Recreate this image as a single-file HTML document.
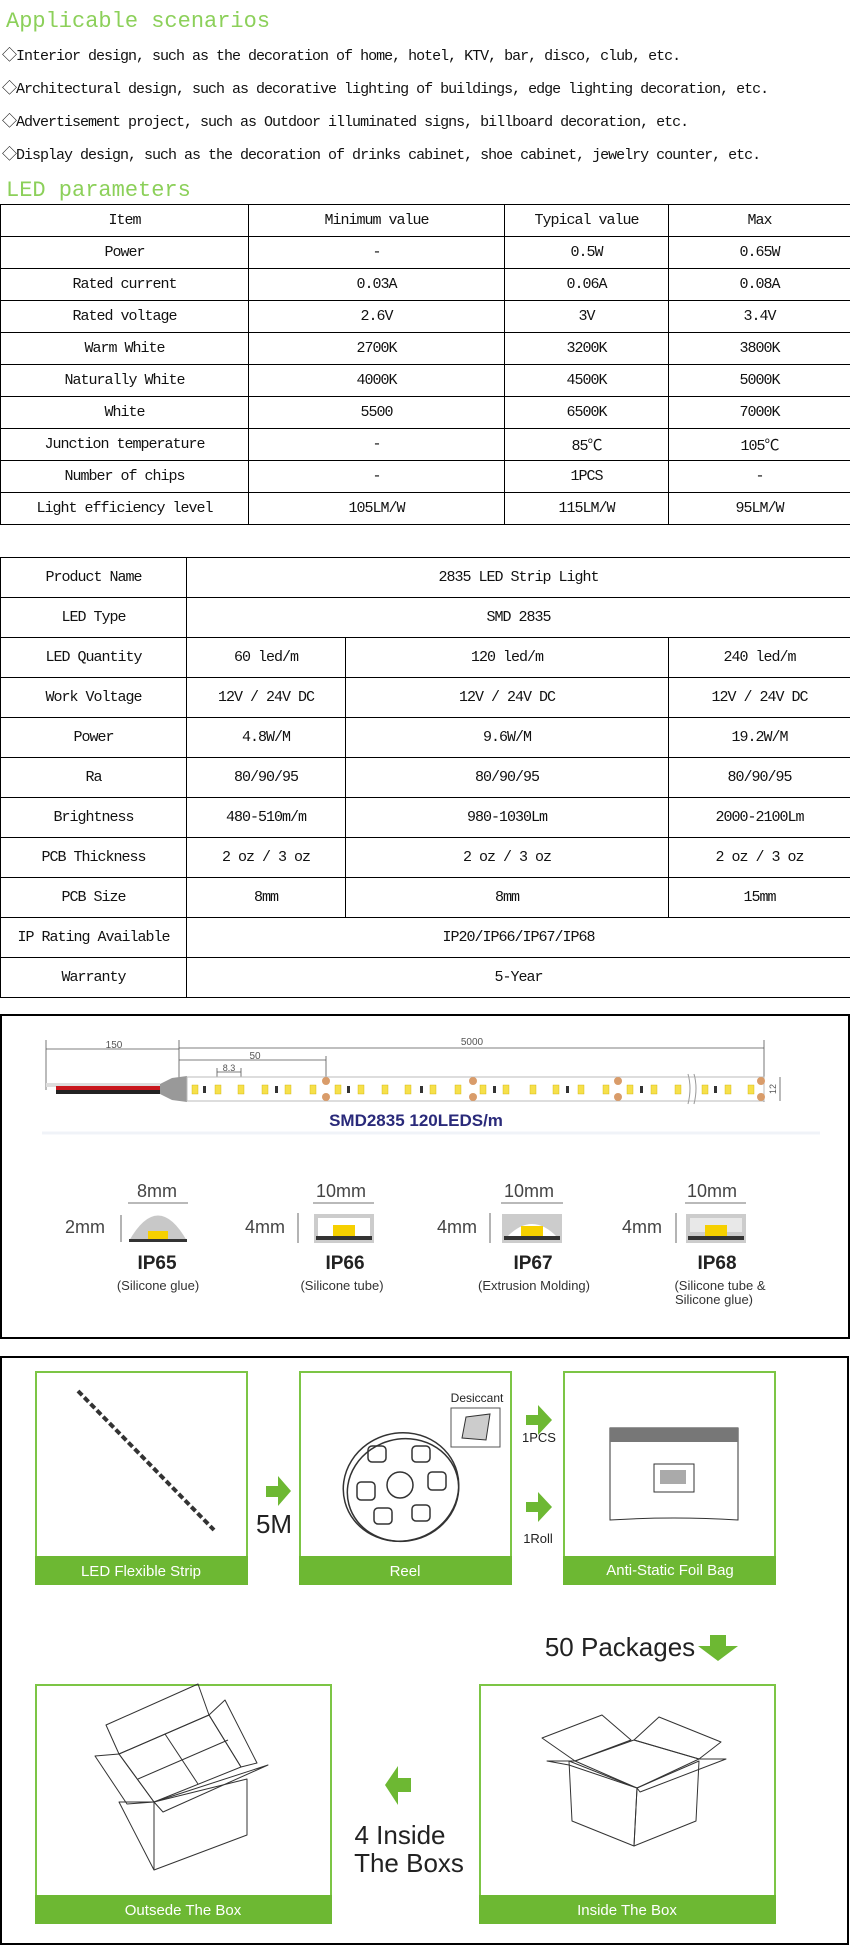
<!DOCTYPE html>
<html><head><meta charset="utf-8"><style>
*{margin:0;padding:0;box-sizing:border-box}
body{width:850px;height:1946px;position:relative;background:#fff;overflow:hidden;font-family:"Liberation Mono","Noto Sans CJK SC",monospace}
.t{position:absolute;left:6px;font-size:22px;color:#8cd05a;line-height:26px;letter-spacing:0}
.b{position:absolute;left:2px;font-size:15px;letter-spacing:-1px;line-height:18px;color:#111;white-space:nowrap}
table{position:absolute;left:0;width:850px;border-collapse:collapse;table-layout:fixed}
td{border:1px solid #000;text-align:center;font-size:15px;letter-spacing:-1px;color:#111;white-space:nowrap;padding:0}
#t1 td{height:32px}
#t2 td{height:40px}
svg text{font-family:"Liberation Sans",sans-serif}
</style></head><body>
<div class="t" style="top:9px">Applicable scenarios</div>
<div class="b" style="top:48px">◇Interior design, such as the decoration of home, hotel, KTV, bar, disco, club, etc.</div>
<div class="b" style="top:81px">◇Architectural design, such as decorative lighting of buildings, edge lighting decoration, etc.</div>
<div class="b" style="top:114px">◇Advertisement project, such as Outdoor illuminated signs, billboard decoration, etc.</div>
<div class="b" style="top:147px">◇Display design, such as the decoration of drinks cabinet, shoe cabinet, jewelry counter, etc.</div>
<div class="t" style="top:178px">LED parameters</div>

<table id="t1" style="top:204px">
<colgroup><col style="width:248px"><col style="width:256px"><col style="width:164px"><col style="width:182px"></colgroup>
<tr><td>Item</td><td>Minimum value</td><td>Typical value</td><td>Max</td></tr>
<tr><td>Power</td><td>-</td><td>0.5W</td><td>0.65W</td></tr>
<tr><td>Rated current</td><td>0.03A</td><td>0.06A</td><td>0.08A</td></tr>
<tr><td>Rated voltage</td><td>2.6V</td><td>3V</td><td>3.4V</td></tr>
<tr><td>Warm White</td><td>2700K</td><td>3200K</td><td>3800K</td></tr>
<tr><td>Naturally White</td><td>4000K</td><td>4500K</td><td>5000K</td></tr>
<tr><td>White</td><td>5500</td><td>6500K</td><td>7000K</td></tr>
<tr><td>Junction temperature</td><td>-</td><td>85℃</td><td>105℃</td></tr>
<tr><td>Number of chips</td><td>-</td><td>1PCS</td><td>-</td></tr>
<tr><td>Light efficiency level</td><td>105LM/W</td><td>115LM/W</td><td>95LM/W</td></tr>
</table>

<table id="t2" style="top:557px">
<colgroup><col style="width:186px"><col style="width:159px"><col style="width:323px"><col style="width:182px"></colgroup>
<tr><td>Product Name</td><td colspan="3">2835 LED Strip Light</td></tr>
<tr><td>LED Type</td><td colspan="3">SMD 2835</td></tr>
<tr><td>LED Quantity</td><td>60 led/m</td><td>120 led/m</td><td>240 led/m</td></tr>
<tr><td>Work Voltage</td><td>12V / 24V DC</td><td>12V / 24V DC</td><td>12V / 24V DC</td></tr>
<tr><td>Power</td><td>4.8W/M</td><td>9.6W/M</td><td>19.2W/M</td></tr>
<tr><td>Ra</td><td>80/90/95</td><td>80/90/95</td><td>80/90/95</td></tr>
<tr><td>Brightness</td><td>480-510m/m</td><td>980-1030Lm</td><td>2000-2100Lm</td></tr>
<tr><td>PCB Thickness</td><td>2 oz / 3 oz</td><td>2 oz / 3 oz</td><td>2 oz / 3 oz</td></tr>
<tr><td>PCB Size</td><td>8mm</td><td>8mm</td><td>15mm</td></tr>
<tr><td>IP Rating Available</td><td colspan="3">IP20/IP66/IP67/IP68</td></tr>
<tr><td>Warranty</td><td colspan="3">5-Year</td></tr>
</table>

<svg style="position:absolute;left:0;top:0" width="850" height="1946" viewBox="0 0 850 1946">
<!-- box 1 -->
<rect x="1" y="1015" width="848" height="323" fill="none" stroke="#000" stroke-width="2"/>
<g stroke="#555" stroke-width="0.8" fill="none">
<line x1="46" y1="1049" x2="179" y2="1049"/><line x1="46" y1="1040" x2="46" y2="1090"/>
<line x1="179" y1="1040" x2="179" y2="1080"/>
<line x1="179" y1="1048" x2="764" y2="1048"/><line x1="764" y1="1040" x2="764" y2="1102"/>
<line x1="179" y1="1060" x2="326" y2="1060"/><line x1="326" y1="1056" x2="326" y2="1080"/>
<line x1="217" y1="1072" x2="241" y2="1072"/><line x1="217" y1="1068" x2="217" y2="1082"/><line x1="241" y1="1068" x2="241" y2="1082"/>
<line x1="780" y1="1077" x2="780" y2="1101"/>
</g>
<text x="114" y="1048" font-size="10" fill="#555" text-anchor="middle">150</text>
<text x="472" y="1045" font-size="10" fill="#555" text-anchor="middle">5000</text>
<text x="255" y="1059" font-size="10" fill="#555" text-anchor="middle">50</text>
<text x="229" y="1071" font-size="9" fill="#555" text-anchor="middle">8.3</text>
<text x="776" y="1089" font-size="9" fill="#555" text-anchor="middle" transform="rotate(-90 776 1089)">12</text>
<rect x="46" y="1083" width="114" height="4" fill="#ddd"/>
<rect x="56" y="1086" width="104" height="4" fill="#c8161d"/>
<rect x="56" y="1090" width="104" height="4" fill="#222"/>
<polygon points="160,1084 172,1078 187,1076 187,1102 172,1100 160,1094" fill="#999"/>
<rect x="187" y="1077" width="577" height="24" fill="#fff" stroke="#bbb"/>
<g fill="#f6e04a" stroke="#cdb000" stroke-width="0.4">
<rect x="192" y="1085" width="6" height="9"/><rect x="215" y="1085" width="6" height="9"/><rect x="238" y="1085" width="6" height="9"/><rect x="262" y="1085" width="6" height="9"/><rect x="285" y="1085" width="6" height="9"/><rect x="310" y="1085" width="6" height="9"/><rect x="335" y="1085" width="6" height="9"/><rect x="358" y="1085" width="6" height="9"/><rect x="382" y="1085" width="6" height="9"/><rect x="405" y="1085" width="6" height="9"/><rect x="430" y="1085" width="6" height="9"/><rect x="455" y="1085" width="6" height="9"/><rect x="480" y="1085" width="6" height="9"/><rect x="503" y="1085" width="6" height="9"/><rect x="530" y="1085" width="6" height="9"/><rect x="553" y="1085" width="6" height="9"/><rect x="578" y="1085" width="6" height="9"/><rect x="603" y="1085" width="6" height="9"/><rect x="627" y="1085" width="6" height="9"/><rect x="651" y="1085" width="6" height="9"/><rect x="675" y="1085" width="6" height="9"/><rect x="702" y="1085" width="6" height="9"/><rect x="725" y="1085" width="6" height="9"/><rect x="748" y="1085" width="6" height="9"/>
</g>
<g fill="#333"><rect x="203" y="1086" width="3" height="7"/><rect x="275" y="1086" width="3" height="7"/><rect x="347" y="1086" width="3" height="7"/><rect x="420" y="1086" width="3" height="7"/><rect x="493" y="1086" width="3" height="7"/><rect x="566" y="1086" width="3" height="7"/><rect x="640" y="1086" width="3" height="7"/><rect x="714" y="1086" width="3" height="7"/></g>
<g fill="#d99c6a"><circle cx="326" cy="1081" r="4"/><circle cx="326" cy="1097" r="4"/><circle cx="473" cy="1081" r="4"/><circle cx="473" cy="1097" r="4"/><circle cx="618" cy="1081" r="4"/><circle cx="618" cy="1097" r="4"/><circle cx="761" cy="1081" r="4"/><circle cx="761" cy="1097" r="4"/></g>
<path d="M688 1074 q4 14 0 30 M694 1074 q4 14 0 30" stroke="#999" fill="#fff" stroke-width="1"/>
<text x="416" y="1126" font-size="17" font-weight="bold" fill="#2a2a7a" text-anchor="middle">SMD2835 120LEDS/m</text>
<line x1="42" y1="1133" x2="820" y2="1133" stroke="#f0f3f8" stroke-width="3"/>
<!-- IP icons -->
<g font-size="18" fill="#444" text-anchor="middle">
<text x="157" y="1197">8mm</text><text x="341" y="1197">10mm</text><text x="529" y="1197">10mm</text><text x="712" y="1197">10mm</text>
<text x="85" y="1233">2mm</text><text x="265" y="1233">4mm</text><text x="457" y="1233">4mm</text><text x="642" y="1233">4mm</text>
</g>
<g stroke="#444" stroke-width="0.8">
<line x1="128" y1="1203" x2="188" y2="1203"/><line x1="313" y1="1203" x2="374" y2="1203"/><line x1="501" y1="1203" x2="563" y2="1203"/><line x1="685" y1="1203" x2="746" y2="1203"/>
<line x1="121" y1="1215" x2="121" y2="1242"/><line x1="298" y1="1213" x2="298" y2="1243"/><line x1="490" y1="1213" x2="490" y2="1243"/><line x1="676" y1="1213" x2="676" y2="1243"/>
</g>
<path d="M129 1241 Q158 1190 187 1241 Z" fill="#c8c8c8"/><rect x="148" y="1231" width="20" height="9" fill="#f6d000"/><rect x="129" y="1239" width="58" height="3" fill="#333"/>
<rect x="314" y="1214" width="60" height="29" fill="#ccc"/><rect x="318" y="1218" width="52" height="20" fill="#fff"/><rect x="333" y="1225" width="22" height="12" fill="#f6d000"/><rect x="316" y="1236" width="56" height="4" fill="#333"/>
<rect x="502" y="1214" width="60" height="29" fill="#ccc"/><path d="M506 1238 Q532 1210 558 1238 Z" fill="#fff"/><rect x="521" y="1226" width="22" height="12" fill="#f6d000"/><rect x="504" y="1236" width="56" height="4" fill="#333"/>
<rect x="686" y="1214" width="60" height="29" fill="#ccc"/><rect x="690" y="1218" width="52" height="14" fill="#e8e8e8"/><rect x="705" y="1225" width="22" height="12" fill="#f6d000"/><rect x="688" y="1236" width="56" height="4" fill="#333"/>
<g font-weight="bold" font-size="19" fill="#222" text-anchor="middle">
<text x="157" y="1269">IP65</text><text x="345" y="1269">IP66</text><text x="533" y="1269">IP67</text><text x="717" y="1269">IP68</text></g>
<g font-size="13" fill="#333" text-anchor="middle">
<text x="158" y="1290">(Silicone glue)</text><text x="342" y="1290">(Silicone tube)</text><text x="534" y="1290">(Extrusion Molding)</text><text x="720" y="1290">(Silicone tube &amp;</text><text x="714" y="1304">Silicone glue)</text></g>

<!-- box 2 -->
<rect x="1" y="1357" width="847" height="587" fill="none" stroke="#000" stroke-width="2"/>
<g fill="#fff" stroke="#7cc545" stroke-width="2">
<rect x="36" y="1372" width="211" height="212"/><rect x="300" y="1372" width="211" height="212"/><rect x="564" y="1372" width="211" height="212"/>
<rect x="36" y="1685" width="295" height="238"/><rect x="480" y="1685" width="295" height="238"/></g>
<g fill="#6db833">
<rect x="35" y="1556" width="213" height="29"/><rect x="299" y="1556" width="213" height="29"/><rect x="563" y="1556" width="213" height="29"/>
<rect x="35" y="1895" width="297" height="29"/><rect x="479" y="1895" width="297" height="29"/></g>
<g fill="#fff" font-size="15" text-anchor="middle">
<text x="141" y="1576">LED Flexible Strip</text><text x="405" y="1576">Reel</text><text x="670" y="1575">Anti-Static Foil Bag</text>
<text x="183" y="1915">Outsede The Box</text><text x="627" y="1915">Inside The Box</text></g>
<!-- strip -->
<line x1="78" y1="1391" x2="214" y2="1530" stroke="#333" stroke-width="4" stroke-dasharray="6 3"/>
<!-- arrows -->
<g fill="#6db833">
<polygon points="266,1486 278,1486 278,1476 291,1491 278,1506 278,1497 266,1497"/>
<polygon points="526,1415 538,1415 538,1405 552,1420 538,1435 538,1425 526,1425"/>
<polygon points="526,1502 538,1502 538,1492 552,1507 538,1522 538,1512 526,1512"/>
<polygon points="710,1635 726,1635 726,1646 738,1646 718,1661 698,1646 710,1646"/>
<polygon points="411,1778 398,1778 398,1766 385,1785 398,1805 398,1792 411,1792"/>
</g>
<g fill="#222" text-anchor="middle">
<text x="274" y="1533" font-size="26">5M</text>
<text x="539" y="1442" font-size="13">1PCS</text><text x="538" y="1543" font-size="13">1Roll</text>
<text x="477" y="1402" font-size="12">Desiccant</text>
<text x="620" y="1656" font-size="26">50 Packages</text>
<text x="400" y="1844" font-size="26">4 Inside</text><text x="409" y="1872" font-size="26">The Boxs</text></g>
<rect x="451" y="1408" width="49" height="39" fill="#fff" stroke="#555"/>
<polygon points="466,1417 490,1414 486,1440 462,1438" fill="#ccc" stroke="#333"/>
<!-- reel -->
<g stroke="#333" fill="none" stroke-width="1.5">
<ellipse cx="401" cy="1487" rx="58" ry="54" transform="rotate(-15 401 1487)"/>
<ellipse cx="403" cy="1490" rx="56" ry="51" transform="rotate(-15 403 1490)"/>
<circle cx="400" cy="1485" r="13"/>
<rect x="368" y="1446" width="18" height="16" rx="4"/><rect x="412" y="1446" width="18" height="16" rx="4"/>
<rect x="428" y="1472" width="18" height="18" rx="4"/><rect x="357" y="1482" width="18" height="18" rx="4"/>
<rect x="374" y="1508" width="18" height="16" rx="4"/><rect x="412" y="1505" width="18" height="16" rx="4"/>
</g>
<!-- bag -->
<path d="M610 1428 L738 1428 L738 1520 Q674 1516 610 1520 Z" fill="#fff" stroke="#333"/>
<rect x="610" y="1428" width="128" height="14" fill="#777"/>
<rect x="654" y="1464" width="40" height="28" fill="#fff" stroke="#333"/>
<rect x="660" y="1470" width="26" height="14" fill="#aaa"/>
<!-- outside box -->
<g stroke="#333" fill="none" stroke-width="1" stroke-linejoin="round">
<polygon points="119,1802 154,1870 247,1835 247,1779 154,1802"/>
<line x1="154" y1="1802" x2="154" y2="1870"/>
<polygon points="106,1725 198,1684 209,1715 119,1754"/>
<polygon points="209,1715 225,1700 257,1763 241,1767"/>
<polygon points="95,1756 119,1754 154,1802 127,1804"/>
<polygon points="154,1802 268,1765 163,1812"/>
<polygon points="119,1754 209,1715 241,1767 154,1802"/>
<line x1="165" y1="1734" x2="198" y2="1784"/>
<line x1="138" y1="1779" x2="228" y2="1740"/>
</g>
<!-- inside box -->
<g stroke="#333" fill="none" stroke-width="1" stroke-linejoin="round">
<polygon points="569,1761 637,1788 634,1846 572,1821"/>
<polygon points="637,1788 699,1761 696,1821 634,1846"/>
<polygon points="542,1738 602,1715 631,1740 575,1761"/>
<polygon points="634,1740 659,1717 721,1742 699,1759"/>
<polygon points="547,1761 575,1761 637,1788 569,1765"/>
<polygon points="637,1788 699,1759 726,1759 640,1792"/>
<polyline points="575,1761 634,1740 699,1759"/>
</g>
</svg>
</body></html>
